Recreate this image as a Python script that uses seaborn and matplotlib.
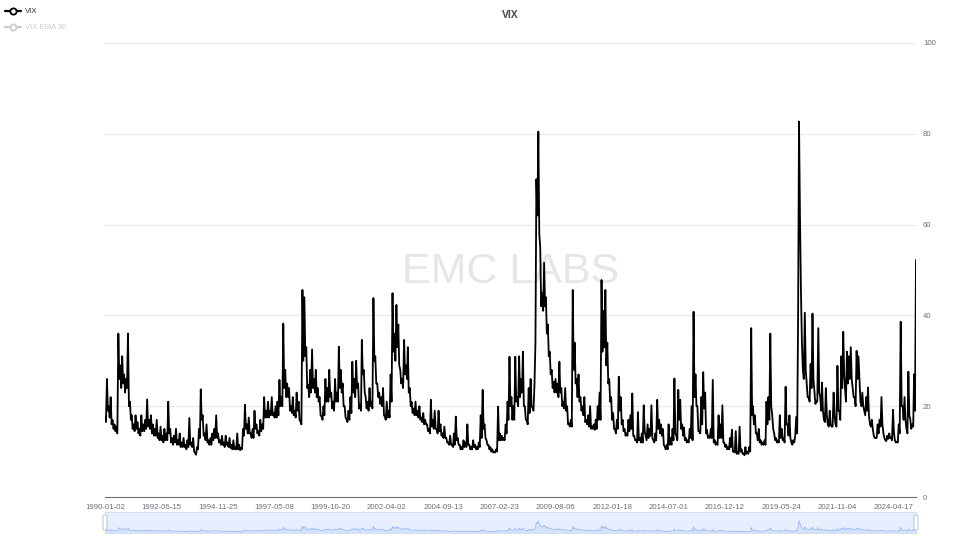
import pandas as pd
import matplotlib
matplotlib.use("Agg")
import matplotlib.pyplot as plt
from matplotlib.lines import Line2D
from matplotlib.patches import FancyBboxPatch
import seaborn as sns

# VIX: two readings per month,
# "start" = around the 1st of the month, "mid" = around the 16th
vix_1990s_start = [
    17.7, 26, 20, 22, 17, 16, 15.5, 36, 29, 31, 27, 26,
    36, 21, 18, 16, 18, 16.5, 15, 18, 16, 17, 21.5, 17,
    18, 16, 15, 17, 14, 15.5, 13.5, 15, 14, 21, 15, 13,
    13.5, 15, 12.5, 14, 12, 13, 11.5, 12.5, 17.4, 12, 13, 9.7,
    11, 15, 23.7, 18, 14, 16, 12.5, 13, 14, 15, 18, 14,
    12.5, 13.5, 12, 13.5, 12, 13, 11.5, 12.5, 11, 14, 11.5, 10.8,
    15, 20.3, 16, 17.5, 14, 15, 19, 16, 14.5, 17, 16, 22,
    19, 21, 19, 22, 18.5, 20, 21, 25.8, 22, 38.2, 28, 25,
    24, 20, 22, 19, 23, 21, 16.6, 45.6, 44, 33, 24.7, 28,
    32.5, 26, 28, 24, 22, 17.7, 20, 26, 24, 28, 23, 21,
]
vix_1990s_mid = [
    16.5, 19, 17.5, 16, 15, 14.5, 14, 26, 24, 25, 23, 24,
    20, 17, 15, 14.5, 15, 14, 13.5, 14.5, 14.5, 15, 15.5, 15,
    14, 13.5, 13.5, 13, 12.5, 12.5, 12, 12.5, 12.5, 14, 12, 11.5,
    12, 11.5, 11.5, 11, 11, 11, 10.5, 11, 11.5, 11, 10, 9.3,
    10.5, 13, 17, 13.5, 12.5, 12, 11.5, 11.5, 12.5, 13, 13, 12,
    11.5, 11.5, 11, 11.5, 11, 10.8, 10.5, 10.5, 10.5, 10.5, 10.3, 10.5,
    13.5, 15, 14, 14, 13, 13, 15, 14, 13.5, 14.5, 15, 17.5,
    17.5, 17.5, 18, 18, 17.5, 17.5, 18, 20, 20, 24, 22, 22,
    19, 18.5, 18, 17.5, 19, 17, 16, 30, 31, 24, 22, 23,
    24, 23, 22, 21, 18, 17, 18, 21, 21, 22, 19.5, 19,
]
vix_2000s_start = [
    26, 23, 33.1, 28, 25, 20, 17.1, 19, 22, 29.8, 26, 30,
    25, 20.2, 34.6, 28, 22, 21, 24, 21, 43.8, 31, 25, 23,
    22, 24, 17.7, 21, 19, 27, 44.9, 36, 42.3, 38, 28, 26,
    34.6, 29, 33, 24, 20.9, 19.5, 21, 19, 20, 17.5, 18.5, 17,
    16, 15, 21.4, 17, 19, 15, 19, 16, 14, 15.5, 13, 12,
    13.5, 11.5, 14, 17.7, 13, 11.5, 11, 12.5, 12, 16, 11.5, 11,
    12.5, 11.5, 11, 12, 18, 23.6, 16, 12.5, 11.5, 11, 10.5, 10,
    10.5, 19.9, 14, 13.5, 13, 16, 21, 30.9, 22, 20, 30.9, 22,
    31, 26, 32, 20, 17, 24, 26, 19.7, 25, 70, 80.5, 55,
    45, 51.6, 44, 38, 32, 28, 25.4, 26, 25, 29.8, 24, 21,
]
vix_2000s_mid = [
    21, 21, 24, 23, 20, 17.5, 16.5, 17, 18.5, 23, 22, 24,
    19.5, 19, 27, 23, 19.5, 19, 20, 19.5, 30, 25, 22, 20.5,
    20, 18, 17, 17.5, 17.5, 21, 32, 30, 33, 29, 25, 24,
    27, 26, 23, 20, 18.5, 18, 18, 17.5, 17, 16.5, 16, 16,
    14.5, 14, 15.5, 15, 15, 14, 14.5, 13.5, 13, 13, 12, 11.5,
    11.5, 11, 11.5, 12.5, 11.5, 10.5, 10.5, 11, 11, 11.5, 10.5, 10.5,
    11, 10.5, 10.5, 11, 13, 15, 13, 11.5, 10.5, 10, 9.8, 9.8,
    10, 12.5, 12.5, 12.5, 12.5, 14, 17, 20, 17, 17, 21, 20,
    22, 23, 20, 17, 16, 18.5, 20, 19, 34, 62, 58, 42,
    41, 42, 36, 31, 27, 24, 23, 23, 22, 23, 20, 19.5,
]
vix_2010s_start = [
    24, 20, 16.2, 17, 45.6, 34, 26, 27, 22, 20, 22, 17,
    18, 20, 15.6, 16, 17, 20, 23, 47.8, 41, 45.6, 34, 26,
    22, 18.5, 15, 17, 26.5, 22, 17, 15, 14, 17, 18, 22.8,
    13.5, 12.5, 18.7, 13, 14, 20.2, 13.5, 16, 15, 20.2, 12.5, 14,
    21.4, 17, 16, 15, 11.1, 11.5, 16, 13, 15, 26.1, 13.5, 23.6,
    21.4, 16, 15.3, 13, 12.5, 15, 20, 40.8, 27, 20, 14.4, 22,
    27.5, 23, 14.8, 13.5, 15, 25.8, 12.5, 12, 18, 16, 20.2, 12,
    11.5, 11, 13, 14.8, 10, 14.5, 9.8, 15.5, 10.5, 9.6, 11, 10,
    11, 37.2, 20, 18, 14, 15, 12.5, 12, 12.5, 21, 22, 36,
    18, 14, 13, 12.5, 18, 15, 13, 24.3, 16, 18, 12, 12.5,
]
vix_2010s_mid = [
    19, 16, 15.5, 15.5, 28, 25, 22, 21, 19, 18, 16.5, 16,
    15.5, 15, 15, 14.8, 15, 17, 17, 32, 33, 29, 25, 21,
    17, 15, 14, 15, 19, 16, 14.5, 13.5, 13.5, 14.5, 15, 13.5,
    12.5, 12, 12.5, 12, 12, 14.5, 12.5, 13, 13.5, 13, 12, 12.5,
    15, 14, 13.5, 11.5, 10.5, 10.5, 11.5, 11.5, 12.5, 14, 12.5, 17,
    15, 13.5, 12.5, 12, 12, 13, 12.5, 22, 20, 14.5, 14, 16,
    19.5, 14, 13, 13, 13, 12, 11.5, 11.5, 13, 13, 12, 11,
    10.5, 10.5, 11, 10, 9.8, 9.5, 9.5, 10, 9.5, 9.2, 9.5, 9.5,
    10, 18, 16, 14, 12.5, 12, 11.5, 11.5, 11.5, 16, 17, 20,
    15, 12.5, 12, 12, 13, 12.5, 12, 16, 13.5, 13, 11.5, 12,
]
vix_2020s_start = [
    13.5, 14, 82.7, 45, 28, 40.6, 25, 22, 29.3, 40.4, 23, 21,
    37.2, 22, 25.2, 17, 24, 16, 19, 15.5, 23, 16, 28.9, 19,
    31, 36.4, 24, 32, 31, 33, 24, 22, 32.2, 31, 21, 23,
    19, 22, 24.1, 16, 17, 13.5, 13, 16, 17, 22, 14, 12.5,
    13.5, 14, 13, 19.2, 12.5, 12.2, 16, 38.6, 20, 22, 15, 27.6,
    17, 16, 27, 52.2,
]
vix_2020s_mid = [
    17.6, 41, 62, 34, 26, 28, 22, 21, 24, 26, 20.5, 21,
    23, 19, 19, 16.5, 18, 15.5, 16, 15.5, 18, 15.5, 19, 17,
    24, 27, 21, 25, 26, 26, 22, 20, 26, 26, 20, 20,
    18, 19, 18, 15.5, 15, 13, 13, 14, 15.5, 16, 13, 12.3,
    12.8, 13, 12.5, 14, 12, 12, 14, 20, 17, 17, 14, 18,
    15, 15.5, 19,
]

tick_labels = ["1990-01-02", "1992-06-15", "1994-11-25", "1997-05-08", "1999-10-20",
               "2002-04-02", "2004-09-13", "2007-02-23", "2009-08-06", "2012-01-18",
               "2014-07-01", "2016-12-12", "2019-05-24", "2021-11-04", "2024-04-17"]
y_ticks = [0, 20, 40, 60, 80, 100]

vix_start = vix_1990s_start + vix_2000s_start + vix_2010s_start + vix_2020s_start
vix_mid = vix_1990s_mid + vix_2000s_mid + vix_2010s_mid + vix_2020s_mid
month_starts = pd.date_range("1990-01-01", periods=len(vix_start), freq="MS")

rows = []
for i, d in enumerate(month_starts):
    rows.append((d, vix_start[i]))
    if i < len(vix_mid):
        rows.append((d + pd.Timedelta(days=15), vix_mid[i]))
df = pd.DataFrame(rows, columns=["date", "vix"])

sns.set_style("white")
plt.rcParams["font.family"] = ["Liberation Sans", "DejaVu Sans"]

W, H = 964, 546
axis_grey = "#6e7079"
fig = plt.figure(figsize=(W / 100, H / 100), dpi=100)

# main chart
ax = fig.add_axes([105 / W, 1 - 497 / H, 811 / W, 454 / H])
ax.text(0.5, 0.496, "EMC LABS", transform=ax.transAxes, ha="center", va="center",
        fontsize=31, color="#e6e6e6", zorder=0)
sns.lineplot(data=df, x="date", y="vix", ax=ax, color="black", linewidth=1.3, zorder=3)

ax.set_xlim(df["date"].iloc[0], df["date"].iloc[-1])
ax.set_ylim(0, 100)
ax.set_xlabel("")
ax.set_ylabel("")
ax.set_yticks(y_ticks)
ax.yaxis.tick_right()
ax.tick_params(axis="y", length=0, pad=5, labelsize=5.6, labelcolor=axis_grey)
ax.set_xticks(pd.to_datetime(tick_labels))
ax.set_xticklabels(tick_labels)
ax.tick_params(axis="x", length=3, width=0.8, color=axis_grey, pad=2,
               labelsize=5.6, labelcolor=axis_grey)
ax.grid(axis="y", color="#e8e9ee", linewidth=0.8)
ax.grid(axis="x", visible=False)
ax.set_axisbelow(True)
for side in ["top", "left", "right"]:
    ax.spines[side].set_visible(False)
ax.spines["bottom"].set_color(axis_grey)
ax.spines["bottom"].set_linewidth(0.8)

# data zoom slider
ax2 = fig.add_axes([105 / W, 1 - 533 / H, 811 / W, 21 / H])
ax2.set_facecolor("#e7effe")
ax2.fill_between(df["date"], df["vix"], color="#8fb0f7", alpha=0.2, linewidth=0)
sns.lineplot(data=df, x="date", y="vix", ax=ax2, color="#8fb0f7", linewidth=0.5)
ax2.set_xlim(df["date"].iloc[0], df["date"].iloc[-1])
ax2.set_ylim(0, 140)
ax2.set_xticks([])
ax2.set_yticks([])
ax2.set_xlabel("")
ax2.set_ylabel("")
for side in ax2.spines:
    ax2.spines[side].set_color("#d2dbee")
    ax2.spines[side].set_linewidth(0.6)

for hx in [105, 916]:
    handle = FancyBboxPatch(((hx - 2) / W, 1 - 530 / H), 4 / W, 15 / H,
                            boxstyle="round,pad=0,rounding_size=0.002",
                            transform=fig.transFigure, facecolor="white",
                            edgecolor="#acb8d1", linewidth=0.6, zorder=5)
    fig.add_artist(handle)

# title and legend
fig.text(510 / W, 1 - 15 / H, "VIX", ha="center", va="center", fontsize=7.5,
         fontweight="bold", color="#464646")

handles = [
    Line2D([0], [0], color="black", linewidth=1.6, marker="o", markersize=4.5,
           markerfacecolor="white", markeredgecolor="black", markeredgewidth=1.3),
    Line2D([0], [0], color="#cccccc", linewidth=1.6, marker="o", markersize=4.5,
           markerfacecolor="white", markeredgecolor="#cccccc", markeredgewidth=1.3),
]
leg = fig.legend(handles=handles, labels=["VIX", "VIX EMA 30"], loc="upper left",
                 bbox_to_anchor=(5 / W, 1 - 8 / H), frameon=False, fontsize=5.6,
                 handlelength=2.1, handletextpad=0.5, labelspacing=1.1,
                 borderpad=0, borderaxespad=0)
leg.get_texts()[0].set_color("#333333")
leg.get_texts()[1].set_color("#cccccc")

fig.savefig("out.png", dpi=100, facecolor="white")
